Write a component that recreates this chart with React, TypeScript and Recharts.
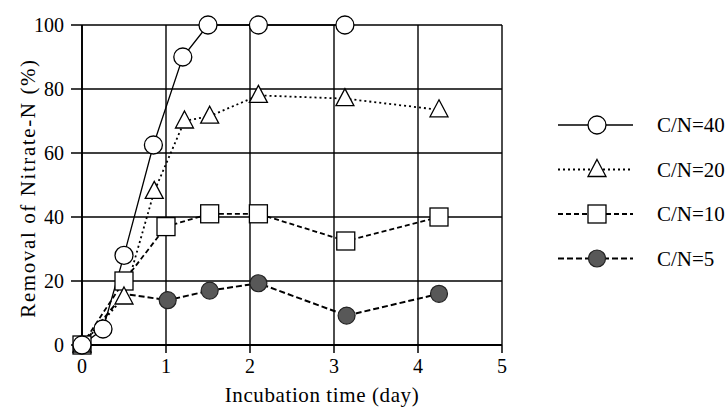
import { LineChart, Line, XAxis, YAxis, CartesianGrid } from "recharts";

// incubation time (day) and nitrate-N removal (%) per C/N ratio
const days40 = [0, 0.25, 0.5, 0.85, 1.2, 1.5, 2.1, 3.13];
const removal40 = [0, 5, 28, 62.5, 90, 100, 100, 100];

const days20 = [0, 0.5, 0.86, 1.22, 1.52, 2.1, 3.13, 4.25];
const removal20 = [0, 15, 48, 70, 71.5, 78, 77, 73.5];

const days10 = [0, 0.5, 1.0, 1.52, 2.1, 3.14, 4.25];
const removal10 = [0, 20, 37, 41, 41, 32.5, 40];

const days5 = [0, 0.5, 1.02, 1.52, 2.1, 3.15, 4.25];
const removal5 = [0, 16, 14, 17, 19.3, 9.2, 16];
// marker at 0.5 day is hidden under the other symbols in the original
const shown5 = [true, false, true, true, true, true, true];

const xTicks = [0, 1, 2, 3, 4, 5];
const yTicks = [0, 20, 40, 60, 80, 100];

const FONT = "'Liberation Serif', 'Times New Roman', serif";
const GRAY = "#585858";

const toRows = (xs: number[], ys: number[], shown?: boolean[]) =>
  xs.map((x, i) => ({ x, y: ys[i], shown: shown ? shown[i] : true }));

const series = [
  { name: "C/N=40", kind: "circle", data: toRows(days40, removal40), dash: undefined, width: 1.3 },
  { name: "C/N=20", kind: "triangle", data: toRows(days20, removal20), dash: "2 3", width: 1.8 },
  { name: "C/N=10", kind: "square", data: toRows(days10, removal10), dash: "5 3", width: 1.8 },
  { name: "C/N=5", kind: "filled", data: toRows(days5, removal5, shown5), dash: "6 3", width: 2 },
];

function Symbol({ kind, cx, cy }: { kind: string; cx: number; cy: number }) {
  if (kind === "circle") {
    return <circle cx={cx} cy={cy} r={9} fill="#fff" stroke="#000" strokeWidth={1.3} />;
  }
  if (kind === "filled") {
    return <circle cx={cx} cy={cy} r={8.5} fill={GRAY} stroke="#222" strokeWidth={1.2} />;
  }
  if (kind === "square") {
    return <rect x={cx - 9} y={cy - 9} width={18} height={18} fill="#fff" stroke="#000" strokeWidth={1.3} />;
  }
  return (
    <polygon
      points={`${cx},${cy - 10} ${cx + 9},${cy + 7} ${cx - 9},${cy + 7}`}
      fill="#fff"
      stroke="#000"
      strokeWidth={1.3}
    />
  );
}

const makeDot = (kind: string) => (props: any) => {
  const { cx, cy, payload, index } = props;
  if (cx == null || cy == null || (payload && payload.shown === false)) {
    return <g key={`${kind}-${index}`} />;
  }
  return <Symbol key={`${kind}-${index}`} kind={kind} cx={cx} cy={cy} />;
};

function LegendBox() {
  return (
    <svg width={170} height={180} style={{ overflow: "visible", display: "block" }}>
      {series.map((s, i) => {
        const y = 22 + i * 44.5;
        return (
          <g key={s.name}>
            <line x1={0} x2={75} y1={y} y2={y} stroke="#000" strokeWidth={s.width} strokeDasharray={s.dash} />
            <Symbol kind={s.kind} cx={39} cy={y} />
            <text x={99} y={y} dominantBaseline="central" fontFamily={FONT} fontSize={21} fill="#000">
              {s.name}
            </text>
          </g>
        );
      })}
    </svg>
  );
}

export default function App() {
  return (
    <div style={{ position: "absolute", left: 0, top: 0, width: 728, height: 410, background: "#fff" }}>
      <LineChart width={728} height={410} margin={{ top: 25, right: 226, bottom: 0, left: 0 }}>
        <CartesianGrid stroke="#000" strokeWidth={1.4} horizontalValues={yTicks} verticalValues={xTicks} />
        <XAxis
          dataKey="x"
          type="number"
          domain={[0, 5]}
          ticks={xTicks}
          height={65}
          tickSize={8}
          tickMargin={6}
          axisLine={{ stroke: "#000", strokeWidth: 1.8 }}
          tickLine={{ stroke: "#000", strokeWidth: 1.5 }}
          tick={{ fill: "#000", fontFamily: FONT, fontSize: 20 }}
          label={{
            value: "Incubation time (day)",
            position: "insideBottom",
            offset: 8,
            dx: 30,
            fill: "#000",
            fontFamily: FONT,
            fontSize: 21,
            letterSpacing: 0.6,
          }}
        />
        <YAxis
          type="number"
          domain={[0, 100]}
          ticks={yTicks}
          width={82}
          tickSize={11}
          tickMargin={7}
          axisLine={{ stroke: "#000", strokeWidth: 1.8 }}
          tickLine={{ stroke: "#000", strokeWidth: 1.5 }}
          tick={{ fill: "#000", fontFamily: FONT, fontSize: 20 }}
          label={{
            value: "Removal of Nitrate-N (%)",
            angle: -90,
            position: "insideLeft",
            offset: 28,
            dy: 3,
            style: { textAnchor: "middle" },
            fill: "#000",
            fontFamily: FONT,
            fontSize: 21,
            letterSpacing: 1.6,
          }}
        />
        {[...series].reverse().map((s) => (
          <Line
            key={s.name}
            name={s.name}
            data={s.data}
            dataKey="y"
            type="linear"
            stroke="#000"
            strokeWidth={s.width}
            strokeDasharray={s.dash}
            dot={makeDot(s.kind)}
            activeDot={false}
            legendType="none"
            isAnimationActive={false}
          />
        ))}
      </LineChart>
      <div style={{ position: "absolute", left: 558, top: 103 }}>
        <LegendBox />
      </div>
    </div>
  );
}
